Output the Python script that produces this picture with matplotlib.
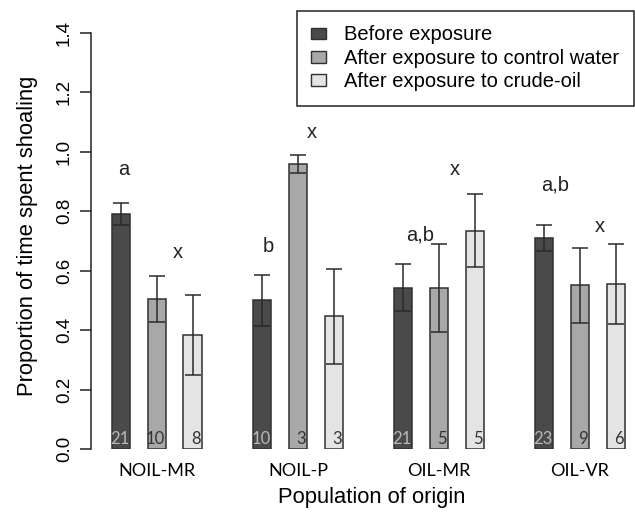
import numpy as np
import matplotlib.pyplot as plt
from matplotlib.patches import Patch

# data
populations = ['NOIL-MR', 'NOIL-P', 'OIL-MR', 'OIL-VR']
treatments = ['Before exposure', 'After exposure to control water',
              'After exposure to crude-oil']

before = [0.79, 0.50, 0.543, 0.710]
control = [0.505, 0.960, 0.542, 0.551]
oil = [0.384, 0.446, 0.735, 0.555]

before_se = [0.037, 0.085, 0.078, 0.045]
control_se = [0.078, 0.030, 0.148, 0.126]
oil_se = [0.135, 0.160, 0.122, 0.135]

n_before = [21, 10, 21, 23]
n_control = [10, 3, 5, 9]
n_oil = [8, 3, 5, 6]

letters = ['a', 'x', 'b', 'x', 'a,b', 'x', 'a,b', 'x']
letter_x = [-0.234, 0.149, 0.787, 1.099, 1.865, 2.113, 2.823, 3.142]
letter_y = [0.94, 0.661, 0.681, 1.065, 0.721, 0.94, 0.89, 0.749]

colors = ['#4a4a4a', '#a8a8a8', '#e4e4e4']
num_colors = ['#b8b8b8', '#333333', '#333333']

fig = plt.figure(figsize=(6.35, 5.13), dpi=100)
ax = fig.add_axes([91 / 635, 64 / 513, 544 / 635, 416 / 513])

x = np.arange(len(populations))
offsets = [-0.252, 0, 0.252]
width = 0.128

series = [before, control, oil]
ses = [before_se, control_se, oil_se]
ns = [n_before, n_control, n_oil]

for i in range(3):
    pos = x + offsets[i]
    ax.bar(pos, series[i], width, color=colors[i], edgecolor='#303030',
           linewidth=1.1, zorder=2)
    ax.errorbar(pos, series[i], yerr=ses[i], fmt='none', ecolor='#2a2a2a',
                elinewidth=1.1, capsize=5.6, capthick=1.1, zorder=3)
    for p, n in zip(pos, ns[i]):
        ax.text(p + width / 2 - 0.008, 0.006, str(n), ha='right', va='bottom',
                fontsize=12, family='Lato', color=num_colors[i], zorder=4)

for t, lx, ly in zip(letters, letter_x, letter_y):
    ax.text(lx, ly, t, ha='center', va='center', fontsize=14.5,
            family='Liberation Sans', color='#222222')

ax.set_xlim(-0.468, 3.39)
ax.set_ylim(0, 1.4)
ax.set_yticks(np.arange(0, 1.41, 0.2))
ax.set_yticklabels(['%.1f' % v for v in np.arange(0, 1.41, 0.2)],
                   rotation=90, va='center', family='Liberation Sans',
                   fontsize=13.5)
ax.tick_params(axis='y', length=8, width=1.1, pad=5, color='#222222')
ax.set_xticks(x)
ax.set_xticklabels(populations, family='Lato', fontsize=13)
ax.tick_params(axis='x', length=0, pad=10)

for s in ['top', 'right', 'bottom']:
    ax.spines[s].set_visible(False)
ax.spines['left'].set_linewidth(1.1)
ax.spines['left'].set_color('#222222')

fig.text(28 / 635, 1 - 236 / 513, 'Proportion of time spent shoaling',
         rotation=90, ha='center', va='center', fontsize=15.8,
         family='Liberation Sans')
fig.text(372 / 635, 1 - 497 / 513, 'Population of origin', ha='center',
         va='center', fontsize=15.8, family='Liberation Sans')

handles = [Patch(facecolor=c, edgecolor='#303030', linewidth=1.0)
           for c in colors]
leg = fig.legend(handles, treatments, loc='upper right',
                 bbox_to_anchor=(634 / 635, 1 - 11 / 513), fancybox=False,
                 edgecolor='#222222', framealpha=1, handlelength=0.75,
                 handleheight=0.5, handletextpad=0.9, labelspacing=0.22,
                 borderpad=0.72, borderaxespad=0,
                 prop={'family': 'Liberation Sans', 'size': 14.5})
leg.get_frame().set_linewidth(1.1)

fig.savefig('out.png', dpi=100)
